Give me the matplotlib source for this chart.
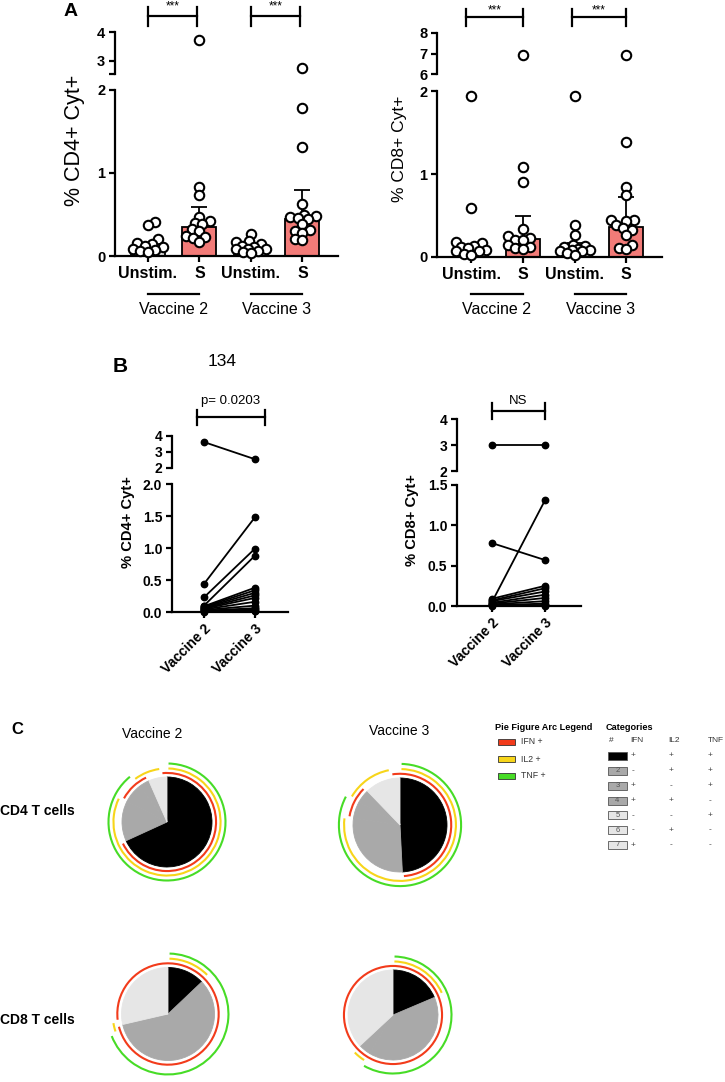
import numpy as np
import matplotlib.pyplot as plt
from matplotlib.patches import Arc, Rectangle
from matplotlib.transforms import blended_transform_factory

plt.rcParams['font.family'] = ['Liberation Sans', 'DejaVu Sans']

# ============================================================
# DATA
# ============================================================
conds = ["Unstim.", "S", "Unstim.", "S"]
vaccines = ["Vaccine 2", "Vaccine 3"]

# panel A : % CD4+ Cyt+
cd4_unstim_v2 = [0.41, 0.37, 0.20, 0.16, 0.15, 0.12, 0.11, 0.09, 0.07, 0.06, 0.05]
cd4_s_v2 = [3.72, 0.83, 0.73, 0.47, 0.42, 0.40, 0.38, 0.32, 0.30, 0.24, 0.23, 0.22, 0.17]
cd4_unstim_v3 = [0.27, 0.18, 0.17, 0.15, 0.12, 0.11, 0.09, 0.08, 0.08, 0.06, 0.05, 0.04]
cd4_s_v3 = [2.75, 1.78, 1.31, 0.63, 0.49, 0.48, 0.47, 0.46, 0.44, 0.39, 0.31, 0.30, 0.28,
            0.21, 0.19]
cd4_bar = [0.11, 0.35, 0.08, 0.44]
cd4_err = [0.16, 0.59, 0.12, 0.80]

# panel A : % CD8+ Cyt+
cd8_unstim_v2 = [1.94, 0.59, 0.18, 0.17, 0.13, 0.12, 0.11, 0.08, 0.07, 0.07, 0.04, 0.03]
cd8_s_v2 = [6.95, 1.09, 0.90, 0.34, 0.25, 0.23, 0.21, 0.20, 0.14, 0.12, 0.11, 0.10]
cd8_unstim_v3 = [1.94, 0.38, 0.26, 0.15, 0.13, 0.12, 0.10, 0.09, 0.08, 0.07, 0.07, 0.05, 0.03]
cd8_s_v3 = [6.95, 1.38, 0.84, 0.75, 0.45, 0.44, 0.43, 0.38, 0.35, 0.33, 0.27, 0.15, 0.11, 0.10]
cd8_bar = [0.08, 0.22, 0.10, 0.36]
cd8_err = [0.13, 0.49, 0.17, 0.72]

# panel B : paired donors, vaccine 2 -> vaccine 3
b_cd4_v2 = [3.62, 0.44, 0.23, 0.10, 0.09, 0.08, 0.07, 0.06, 0.05, 0.04, 0.03, 0.02, 0.01, 0.01, 0.00]
b_cd4_v3 = [2.55, 1.48, 0.99, 0.88, 0.38, 0.34, 0.30, 0.26, 0.22, 0.16, 0.10, 0.06, 0.04, 0.02, 0.01]
b_cd8_v2 = [3.00, 0.78, 0.05, 0.09, 0.07, 0.06, 0.04, 0.03, 0.02, 0.01, 0.01, 0.00]
b_cd8_v3 = [3.00, 0.57, 1.31, 0.25, 0.22, 0.18, 0.14, 0.10, 0.06, 0.03, 0.01, 0.00]

# panel C : SPICE categories (IFN, IL2, TNF) and pie fractions (%)
cat_ids = ["1", "2", "3", "4", "5", "6", "7"]
ifn = ["+", "-", "+", "+", "-", "-", "+"]
il2 = ["+", "+", "-", "+", "-", "+", "-"]
tnf = ["+", "+", "+", "-", "+", "-", "-"]
pie_cd4_v2 = [68.1, 14.4, 6.9, 3.9, 0.0, 4.7, 1.9]
pie_cd4_v3 = [49.2, 28.1, 5.8, 4.7, 0.0, 9.4, 2.8]
pie_cd8_v2 = [12.9, 0.0, 56.5, 1.9, 0.0, 1.4, 27.2]
pie_cd8_v3 = [18.6, 0.0, 40.0, 4.4, 0.0, 0.0, 36.9]

cat_colors = ["#000000", "#a9a9a9", "#a9a9a9", "#a9a9a9", "#e6e6e6", "#e6e6e6", "#e6e6e6"]
RED, YELLOW, GREEN = "#f23b1b", "#f7d51a", "#47dc26"
S_COLOR, U_COLOR = "#f27b78", "#dcdcdc"

# ============================================================
# FIGURE / HELPERS
# ============================================================
W, H = 725, 1082
fig = plt.figure(figsize=(W / 100, H / 100), dpi=100)


def rect(l, t, r, b):
    return [l / W, 1 - b / H, (r - l) / W, (b - t) / H]


ov = fig.add_axes([0, 0, 1, 1], zorder=10)
ov.set_xlim(0, W)
ov.set_ylim(H, 0)
ov.axis("off")

LW = 1.6


def broken_axes(l, r, low_t, low_b, up_t, up_b, low_lim, up_lim, xlim):
    lo = fig.add_axes(rect(l, low_t, r, low_b))
    up = fig.add_axes(rect(l, up_t, r, up_b))
    for ax in (lo, up):
        ax.patch.set_visible(False)
        ax.spines[["top", "right"]].set_visible(False)
        ax.spines["left"].set_linewidth(LW)
        ax.set_xlim(*xlim)
        ax.tick_params(axis="y", width=LW, length=4, pad=3)
    lo.set_ylim(*low_lim)
    up.set_ylim(*up_lim)
    lo.spines["bottom"].set_linewidth(LW)
    lo.tick_params(axis="x", width=LW, length=4, pad=3)
    up.spines["bottom"].set_visible(False)
    up.tick_params(axis="x", bottom=False, labelbottom=False)
    return lo, up


def swarm_x(ax, x, vals, sep=7.0, half=15.0):
    # simple deterministic beeswarm (pixel space), points may overlap a little
    vals = np.asarray(vals, float)
    if vals.size == 0:
        return vals
    disp = ax.transData.transform(np.column_stack([np.full(vals.size, x), vals]))
    x0, ys = disp[0, 0], disp[:, 1]
    cands = [0.0]
    for k in range(1, 40):
        if k * 1.5 > half:
            break
        cands += [k * 1.5, -k * 1.5]
    placed, out = [], np.empty(vals.size)
    for j, i in enumerate(np.argsort(ys)):
        best, best_d = 0.0, -1
        for c in (cands if j % 2 == 0 else [-c for c in cands]):
            dmin = min([np.hypot(c - px, ys[i] - py) for px, py in placed] + [1e9])
            if dmin >= sep:
                best = c
                break
            if dmin > best_d:
                best, best_d = c, dmin
        placed.append((best, ys[i]))
        out[i] = x0 + best
    return ax.transData.inverted().transform(np.column_stack([out, ys]))[:, 0]


def bracket(ax, x1, x2, ypx, y0, y1, label, label_y, fs):
    tr = blended_transform_factory(ax.transData, ov.transData)
    kw = dict(transform=tr, color="k", lw=LW, clip_on=False, solid_capstyle="projecting")
    ax.plot([x1, x2], [ypx, ypx], **kw)
    ax.plot([x1, x1], [y0, y1], **kw)
    ax.plot([x2, x2], [y0, y1], **kw)
    ax.text((x1 + x2) / 2, label_y, label, transform=tr, ha="center", va="center",
            fontsize=fs)


def panel_A(lo, up, groups, bars, errs, brk):
    x = np.arange(4)
    lo.bar(x, bars, width=0.66, color=[U_COLOR, S_COLOR, U_COLOR, S_COLOR],
           edgecolor="black", linewidth=1.3, zorder=2)
    lo.errorbar(x, bars, yerr=[np.zeros(4), np.array(errs) - np.array(bars)], fmt="none",
                ecolor="black", elinewidth=1.3, capsize=6, capthick=1.3, zorder=3)
    for xi, vals in zip(x, groups):
        vals = np.asarray(vals)
        for ax, sub in ((lo, vals[vals <= brk]), (up, vals[vals > brk])):
            xs = swarm_x(ax, xi, sub)
            ax.plot(xs, sub, "o", ms=6.8, mfc="white", mec="black", mew=1.5,
                    ls="none", zorder=5, clip_on=False)
    lo.set_xticks(x, conds, fontweight="bold", fontsize=11.5)
    tr = blended_transform_factory(lo.transData, ov.transData)
    for k, name in enumerate(vaccines):
        lo.plot([2 * k, 2 * k + 1], [294, 294], transform=tr, color="k", lw=LW,
                clip_on=False)
        lo.text(2 * k + 0.5, 309, name, transform=tr, ha="center", va="center",
                fontsize=11.5)


# ============================================================
# PANEL A
# ============================================================
lo, up = broken_axes(115, 338, 90, 256, 32, 74, (0, 2), (2.55, 4), (-0.64, 3.69))
lo.set_yticks([0, 1, 2], ["0", "1", "2"], fontweight="bold", fontsize=10.5)
up.set_yticks([2.55, 3, 4], ["", "3", "4"], fontweight="bold", fontsize=10.5)
panel_A(lo, up, [cd4_unstim_v2, cd4_s_v2, cd4_unstim_v3, cd4_s_v3], cd4_bar, cd4_err, 2)
bracket(up, 0, 0.95, 16, 7, 26, "***", 6, 8.5)
bracket(up, 2, 2.95, 16, 7, 26, "***", 6, 8.5)
ov.text(75, 140, "% CD4+ Cyt+", rotation=90, ha="center", va="center", fontsize=15.5)

lo, up = broken_axes(437, 662, 91, 257, 33, 74, (0, 2), (6, 8), (-0.66, 3.69))
lo.set_yticks([0, 1, 2], ["0", "1", "2"], fontweight="bold", fontsize=10.5)
up.set_yticks([6, 7, 8], ["6", "7", "8"], fontweight="bold", fontsize=10.5)
panel_A(lo, up, [cd8_unstim_v2, cd8_s_v2, cd8_unstim_v3, cd8_s_v3], cd8_bar, cd8_err, 2)
bracket(up, -0.1, 1.0, 17, 9, 26, "***", 10, 8.5)
bracket(up, 1.95, 3.0, 17, 9, 26, "***", 10, 8.5)
ov.text(400, 149, "% CD8+ Cyt+", rotation=90, ha="center", va="center", fontsize=12.5)

ov.text(71, 12, "A", ha="center", va="center", fontsize=14, fontweight="bold")

# ============================================================
# PANEL B
# ============================================================
def panel_B(lo, up, v2, v3, brk):
    for a, b in zip(v2, v3):
        ax = up if a > brk else lo
        ax.plot([0, 1], [a, b], "-o", color="black", ms=4.6, lw=1.3, clip_on=False,
                zorder=4)
    lo.set_xticks([0, 1], vaccines, rotation=45, ha="right", rotation_mode="anchor",
                  fontweight="bold", fontsize=10)


lo, up = broken_axes(172, 288, 484, 612, 436, 468, (0, 2), (2, 4), (-0.63, 1.65))
lo.set_yticks([0, 0.5, 1, 1.5, 2], ["0.0", "0.5", "1.0", "1.5", "2.0"],
              fontweight="bold", fontsize=10)
up.set_yticks([2, 3, 4], ["2", "3", "4"], fontweight="bold", fontsize=10)
panel_B(lo, up, b_cd4_v2, b_cd4_v3, 2)
bracket(up, -0.14, 1.2, 417, 410, 425, "p= 0.0203", 401, 9.5)
ov.text(128, 522, "% CD4+ Cyt+", rotation=90, ha="center", va="center", fontsize=10.6,
        fontweight="bold")

lo, up = broken_axes(457, 581, 485, 606, 419, 471, (0, 1.5), (2, 4), (-0.66, 1.68))
lo.set_yticks([0, 0.5, 1, 1.5], ["0.0", "0.5", "1.0", "1.5"], fontweight="bold",
              fontsize=10)
up.set_yticks([2, 3, 4], ["2", "3", "4"], fontweight="bold", fontsize=10)
panel_B(lo, up, b_cd8_v2, b_cd8_v3, 2)
bracket(up, 0, 1, 411, 403, 419, "NS", 401, 9.5)
ov.text(412, 520, "% CD8+ Cyt+", rotation=90, ha="center", va="center", fontsize=10.6,
        fontweight="bold")

ov.text(120, 367, "B", ha="center", va="center", fontsize=15, fontweight="bold")
ov.text(222, 362, "134", ha="center", va="center", fontsize=12.5)

# ============================================================
# PANEL C : SPICE pies
# ============================================================
def pie_panel(cx, cy, R, vals, L=1.42, gap=1.5):
    s = 2 * L * R
    ax = fig.add_axes(rect(cx - s / 2, cy - s / 2, cx + s / 2, cy + s / 2))
    wedges, _ = ax.pie(vals, colors=cat_colors, startangle=90, counterclock=False,
                       radius=1)
    for w in wedges:
        w.set_edgecolor(w.get_facecolor())
        w.set_linewidth(0.6 if w.theta2 - w.theta1 > 0 else 0)
    ax.set_xlim(-L, L)
    ax.set_ylim(-L, L)
    ax.set_aspect("equal")
    ax.axis("off")
    bounds = np.concatenate([[0], np.cumsum(vals)]) / np.sum(vals) * 360
    nz = [i for i in range(len(vals)) if vals[i] > 0]
    for signs, r, col in ((ifn, 1.09, RED), (il2, 1.19, YELLOW), (tnf, 1.30, GREEN)):
        pos = [signs[i] == "+" for i in nz]
        if all(pos):
            ax.add_patch(Arc((0, 0), 2 * r, 2 * r, theta1=0, theta2=360, color=col, lw=1.5))
            continue
        k = pos.index(False)
        order = nz[k:] + nz[:k]
        runs, cur = [], None
        for i in order:
            a0 = bounds[i] + (360 if i < nz[k] else 0)
            a1 = bounds[i + 1] + (360 if i < nz[k] else 0)
            if signs[i] == "+":
                cur = [a0, a1] if cur is None else [cur[0], a1]
            elif cur is not None:
                runs.append(cur)
                cur = None
        if cur is not None:
            runs.append(cur)
        for a0, a1 in runs:
            ax.add_patch(Arc((0, 0), 2 * r, 2 * r, theta1=90 - a1 + gap,
                             theta2=90 - a0 - gap, color=col, lw=1.5))


pie_panel(167, 822, 45, pie_cd4_v2)
pie_panel(400, 825, 47, pie_cd4_v3)
pie_panel(168, 1014, 46.5, pie_cd8_v2)
pie_panel(393, 1015, 45, pie_cd8_v3)

ov.text(17, 729, "C", ha="center", va="center", fontsize=12, fontweight="bold")
ov.text(152, 734, "Vaccine 2", ha="center", va="center", fontsize=10)
ov.text(399, 731, "Vaccine 3", ha="center", va="center", fontsize=10)
ov.text(0, 811, "CD4 T cells", ha="left", va="center", fontsize=10, fontweight="bold")
ov.text(0, 1020, "CD8 T cells", ha="left", va="center", fontsize=10, fontweight="bold")

# arc legend
ov.text(495, 727, "Pie Figure Arc Legend", ha="left", va="center", fontsize=6.6,
        fontweight="bold")
for y, col, lab in ((742, RED, "IFN +"), (759, YELLOW, "IL2 +"), (776, GREEN, "TNF +")):
    ov.add_patch(Rectangle((498, y - 3), 17, 6, facecolor=col, edgecolor="#333333", lw=0.6))
    ov.text(521, y, lab, ha="left", va="center", fontsize=6.3, color="#333333")

# categories table
ov.text(606, 727, "Categories", ha="left", va="center", fontsize=6.6, fontweight="bold")
for x, lab in ((609, "#"), (630, "IFN"), (668, "IL2"), (708, "TNF")):
    ov.text(x, 741, lab, ha="left", va="center", fontsize=6, color="#333333")
row_y = np.linspace(756, 845, 7)
for y, cid, col, a, b, c in zip(row_y, cat_ids, cat_colors, ifn, il2, tnf):
    ov.add_patch(Rectangle((608, y - 4), 19, 8, facecolor=col, edgecolor="#555555", lw=0.6))
    if cid != "1":
        ov.text(617.5, y, cid, ha="center", va="center", fontsize=5.5, color="#555555")
    for x, sgn in ((633, a), (671, b), (710, c)):
        ov.text(x, y, sgn, ha="center", va="center", fontsize=6, color="#444444")

fig.savefig("out.png", dpi=100)
